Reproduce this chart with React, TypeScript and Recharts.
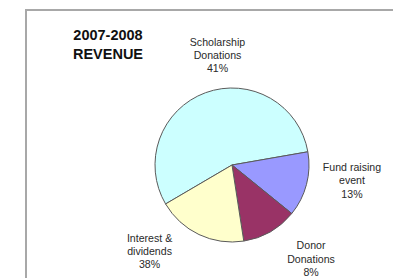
import React from "react";
import { PieChart, Pie, Cell } from "recharts";

// Slice sizes as drawn in the picture (share of the circle, %)
const categories = ["Scholarship Donations", "Fund raising event", "Donor Donations", "Interest & dividends"];
const sliceValues = [55.7, 13.6, 11.7, 19.0];
// Printed label lines and percentages
const labelLines = [
  ["Scholarship", "Donations"],
  ["Fund raising", "event"],
  ["Donor", "Donations"],
  ["Interest &", "dividends"],
];
const labelPercents = ["41%", "13%", "8%", "38%"];
const colors = ["#CCFFFF", "#9999FF", "#993366", "#FFFFCC"];
// label anchor (angle in degrees, distance from pie centre) for each slice
const labelLayout = [
  { angle: 97.8, r: 107 },
  { angle: -9.1, r: 121.5 },
  { angle: -51, r: 125.6 },
  { angle: -132.5, r: 122 },
];

const data = categories.map((name, i) => ({ name, value: sliceValues[i] }));

const RAD = Math.PI / 180;

const renderLabel = (props: any) => {
  const { cx, cy, index } = props;
  const lay = labelLayout[index];
  const x = cx + lay.r * Math.cos(-lay.angle * RAD);
  const y = cy + lay.r * Math.sin(-lay.angle * RAD);
  const lines = [...labelLines[index], labelPercents[index]];
  return (
    <text
      key={`lbl-${index}`}
      x={x}
      y={y}
      textAnchor="middle"
      fontFamily="'Liberation Sans', Arial, sans-serif"
      fontSize={10.6}
      fill="#2a2a2a"
    >
      {lines.map((t, k) => (
        <tspan key={k} x={x} y={y + (k - 1) * 13.4}>
          {t}
        </tspan>
      ))}
    </text>
  );
};

export default function App() {
  return (
    <div style={{ position: "absolute", left: 0, top: 0, width: 393, height: 278, background: "#fff", overflow: "hidden" }}>
      <div
        style={{
          position: "absolute",
          left: 25,
          top: 9,
          width: 400,
          height: 300,
          borderLeft: "2px solid #a8a8a8",
          borderTop: "2px solid #a8a8a8",
        }}
      />
      <PieChart width={393} height={278} margin={{ top: 0, right: 0, bottom: 0, left: 0 }} style={{ position: "absolute", left: 0, top: 0 }}>
        <text x={108} y={40} textAnchor="middle" fontFamily="'Liberation Sans', Arial, sans-serif" fontSize={14.5} fontWeight="bold" fill="#111">
          2007-2008
        </text>
        <text x={108} y={59} textAnchor="middle" fontFamily="'Liberation Sans', Arial, sans-serif" fontSize={14.5} fontWeight="bold" fill="#111">
          REVENUE
        </text>
        <Pie
          data={data}
          dataKey="value"
          nameKey="name"
          cx={232}
          cy={165}
          outerRadius={77}
          startAngle={210.4}
          endAngle={-149.6}
          stroke="#5a5a5a"
          strokeWidth={1}
          label={renderLabel}
          labelLine={false}
          isAnimationActive={false}
        >
          {data.map((d, i) => (
            <Cell key={d.name} fill={colors[i]} />
          ))}
        </Pie>
      </PieChart>
    </div>
  );
}
